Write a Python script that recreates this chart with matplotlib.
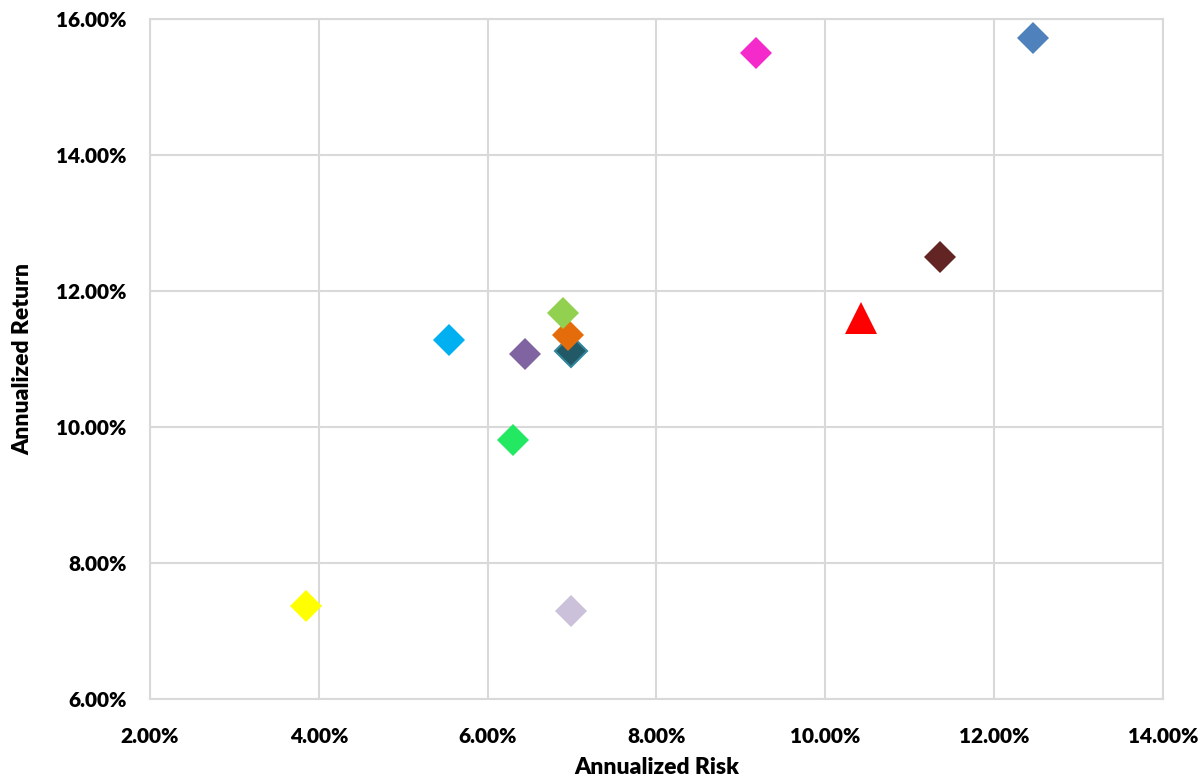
import matplotlib
matplotlib.use("Agg")
import matplotlib.pyplot as plt
from matplotlib.ticker import FuncFormatter, MultipleLocator

plt.rcParams['font.family'] = ['Lato', 'DejaVu Sans']
plt.rcParams['font.weight'] = 800

# annualized risk / return (%) per asset
risk = [6.89, 6.95, 6.99, 6.44, 5.54, 6.30, 3.85, 6.99, 9.18, 12.46, 11.36]
ret = [11.68, 11.35, 11.12, 11.07, 11.28, 9.81, 7.37, 7.29, 15.50, 15.72, 12.50]
colors = ['#92D050', '#E46C0A', '#215967', '#8064A2', '#00B0F0', '#23E862',
          '#FFFF00', '#CCC1DA', '#F42ACB', '#4F81BD', '#632523']
edges = ['none', 'none', '#31859C', 'none', 'none', 'none',
         'none', 'none', 'none', 'none', 'none']
portfolio_risk = [10.42]
portfolio_ret = [11.60]

fig = plt.figure(figsize=(12.03, 7.77), dpi=100)
ax = fig.add_axes([0.1247, 0.1004, 0.842, 0.8751])

# draw back-to-front so the cluster overlaps like the original
order = [3, 4, 5, 6, 7, 8, 9, 10, 2, 1, 0]
for i in order:
    ax.plot(risk[i], ret[i], linestyle='none', marker='D', markersize=16.8,
            markerfacecolor=colors[i],
            markeredgecolor=edges[i] if edges[i] != 'none' else colors[i],
            markeredgewidth=1.5 if edges[i] != 'none' else 0, zorder=3)
ax.plot(portfolio_risk, portfolio_ret, linestyle='none', marker='^', markersize=23.5,
        markerfacecolor='#FF0000', markeredgewidth=0, zorder=3)

ax.set_xlim(2, 14)
ax.set_ylim(6, 16)
ax.xaxis.set_major_locator(MultipleLocator(2))
ax.yaxis.set_major_locator(MultipleLocator(2))
fmt = FuncFormatter(lambda v, p: f"{v:.2f}%")
ax.xaxis.set_major_formatter(fmt)
ax.yaxis.set_major_formatter(fmt)

ax.grid(True, color='#D9D9D9', linewidth=1.5, zorder=0)
ax.set_axisbelow(True)
for s in ax.spines.values():
    s.set_color('#D9D9D9')
    s.set_linewidth(1.5)
ax.tick_params(length=0, labelsize=15)
ax.tick_params(axis='y', pad=17)
ax.tick_params(axis='x', pad=20)

ax.set_xlabel('Annualized Risk', fontsize=16.5, fontweight=800, labelpad=8)
ax.set_ylabel('Annualized Return', fontsize=16.5, fontweight=800, labelpad=16)

fig.savefig('out.png', dpi=100)
